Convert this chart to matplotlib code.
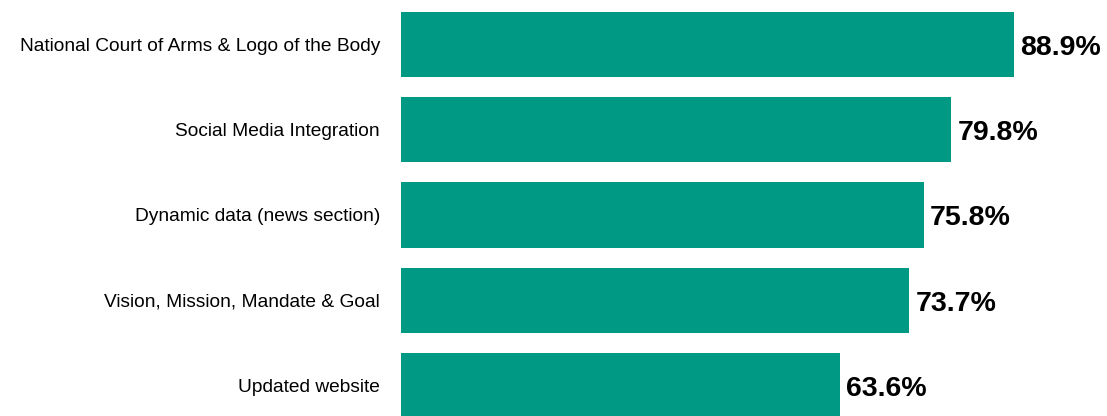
import numpy as np
import matplotlib
matplotlib.use('Agg')
import matplotlib.pyplot as plt

categories = ['National Court of Arms & Logo of the Body',
              'Social Media Integration',
              'Dynamic data (news section)',
              'Vision, Mission, Mandate & Goal',
              'Updated website']
values = [88.9, 79.8, 75.8, 73.7, 63.6]

matplotlib.rcParams['font.family'] = 'Liberation Sans'

fig = plt.figure(figsize=(11.07, 4.16), dpi=100)
ax = fig.add_axes([0.3622, 0.0, 0.6229, 1.0])

y = np.arange(len(categories))
ax.barh(y, values, height=0.765, color='#009A84')

for yi, v in zip(y, values):
    ax.text(v + 0.9, yi + 0.04, '{:.1f}%'.format(v), va='center', ha='left',
            fontsize=20.5, fontweight='bold', color='black')

ax.set_xlim(0, 100)
ax.set_ylim(4.358, -0.522)
ax.set_yticks(y)
ax.set_yticklabels(categories, fontsize=13.8)
ax.tick_params(axis='y', length=0, pad=15)
ax.set_xticks([])
for s in ax.spines.values():
    s.set_visible(False)

fig.savefig('out.png', dpi=100)
